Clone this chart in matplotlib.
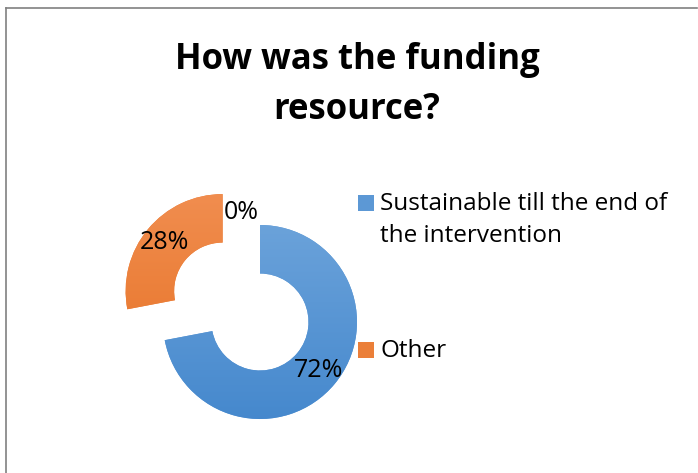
import numpy as np
import matplotlib
matplotlib.use("Agg")
import matplotlib.pyplot as plt
from matplotlib.patches import Rectangle
from matplotlib.lines import Line2D

plt.rcParams['font.family'] = ['Open Sans', 'DejaVu Sans']

# ---- data ----
categories = ["Sustainable till the end of\nthe intervention", "Other"]
values = [72, 28]
extra_label = "0%"
title = "How was the funding\nresource?"

blue_top, blue_bot = np.array([118, 170, 222]) / 255, np.array([66, 134, 204]) / 255
orange_top, orange_bot = np.array([242, 145, 85]) / 255, np.array([228, 108, 28]) / 255
colors = [(blue_top + blue_bot) / 2, (orange_top + orange_bot) / 2]
grads = [(blue_top, blue_bot), (orange_top, orange_bot)]

W, H = 698, 473
fig = plt.figure(figsize=(W / 100, H / 100), dpi=100)

# frame lines
fig.add_artist(Line2D([6 / W, 697 / W], [1 - 8 / H, 1 - 8 / H], color='#808080', lw=1.2, transform=fig.transFigure))
fig.add_artist(Line2D([6 / W, 6 / W], [1 - 8 / H, 0], color='#808080', lw=1.2, transform=fig.transFigure))

fig.text(357 / W, 1 - 85 / H, title, ha='center', va='center', fontsize=25,
         fontweight='bold', linespacing=1.52)

# pie axes
cx, cy, R, s = 260, 322, 97, 150
ax = fig.add_axes([(cx - s) / W, (H - cy - s) / H, 2 * s / W, 2 * s / H])
ax.set_xlim(-s / R, s / R)
ax.set_ylim(-s / R, s / R)
ax.set_aspect('equal')
ax.axis('off')

wedges, texts, autotexts = ax.pie(values, colors=colors, startangle=90, counterclock=False,
                                  explode=[0, 0.5], radius=1,
                                  wedgeprops=dict(width=0.5, linewidth=0),
                                  autopct='%1.0f%%', pctdistance=0.78,
                                  textprops=dict(fontsize=18, color='black'))

# gradient fill clipped to each wedge
for w, (ct, cb) in zip(wedges, grads):
    t = np.linspace(0, 1, 256)[:, None]
    img = ct[None, None, :] * (1 - t[..., None]) + cb[None, None, :] * t[..., None]
    img = np.repeat(img, 2, axis=1)
    im = ax.imshow(img, extent=[-1.6, 1.6, -1.2, 1.6], aspect='auto', zorder=w.get_zorder() + 0.1,
                   interpolation='bilinear')
    im.set_clip_path(w)
for a in autotexts:
    a.set_zorder(10)

ax.text(-0.19, 1.13, extra_label, ha='center', va='center', fontsize=18, zorder=10)
ax.set_xlim(-s / R, s / R)
ax.set_ylim(-s / R, s / R)

# legend (manual)
legend_y = [203, 350]
for c, lab, yy in zip(colors, categories, legend_y):
    fig.add_artist(Rectangle((358 / W, 1 - (yy + 8) / H), 16 / W, 16 / H,
                             facecolor=c, edgecolor='none', transform=fig.transFigure))
    fig.text(380 / W, 1 - (yy - 11) / H, lab, ha='left', va='top', fontsize=17.5, linespacing=1.45)

fig.savefig("out.png", dpi=100)
